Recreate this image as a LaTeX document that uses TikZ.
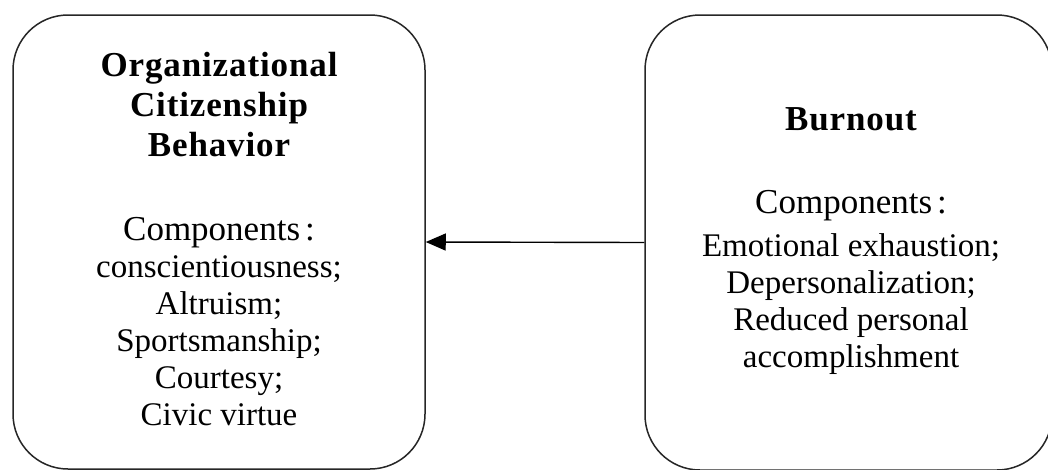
\documentclass[tikz,border=0pt]{standalone}
\usepackage{fontspec}
\setmainfont{Liberation Serif}
\newfontfamily\titlefont[LetterSpace=2.5]{Liberation Serif}
\newcommand{\compword}{{\fontsize{35}{37}\selectfont Components\kern5pt:}}
\usetikzlibrary{arrows.meta}
\begin{document}
\begin{tikzpicture}[x=1pt,y=-1pt,
  box/.style={draw=black!85, line width=1.5pt, rounded corners=55pt, inner sep=0pt},
  ttl/.style={font=\titlefont\bfseries\fontsize{35}{40}\selectfont, align=center, inner sep=0pt, anchor=base},
  body/.style={font=\fontsize{33}{37}\selectfont, align=center, inner sep=0pt, anchor=base},
  conn/.style={line width=1.4pt, -{Triangle[length=20pt,width=17pt]}}]
\useasboundingbox (0,0) rectangle (1048,469);
\begin{scope}
\clip (0,0) rectangle (1048,469);
\node[box, minimum width=412pt, minimum height=454pt] (L) at (219,242) {};
\node[box, minimum width=407pt, minimum height=455pt] (R) at (848.5,242.5) {};
\end{scope}
\node[ttl] (Lt) at (219,156) {Organizational\\Citizenship\\Behavior};
\node[body] (Lb) at (219,425) {\compword\\conscientiousness;\\Altruism;\\Sportsmanship;\\Courtesy;\\Civic virtue};
\node[ttl] (Rt) at (851,130) {Burnout};
\node[body] (Rc) at (851,213) {\compword};
\node[body] (Rb) at (851,367) {Emotional exhaustion;\\Depersonalization;\\Reduced personal\\accomplishment};
\draw[conn] (R.west) -- (L.east);
\end{tikzpicture}
\end{document}
